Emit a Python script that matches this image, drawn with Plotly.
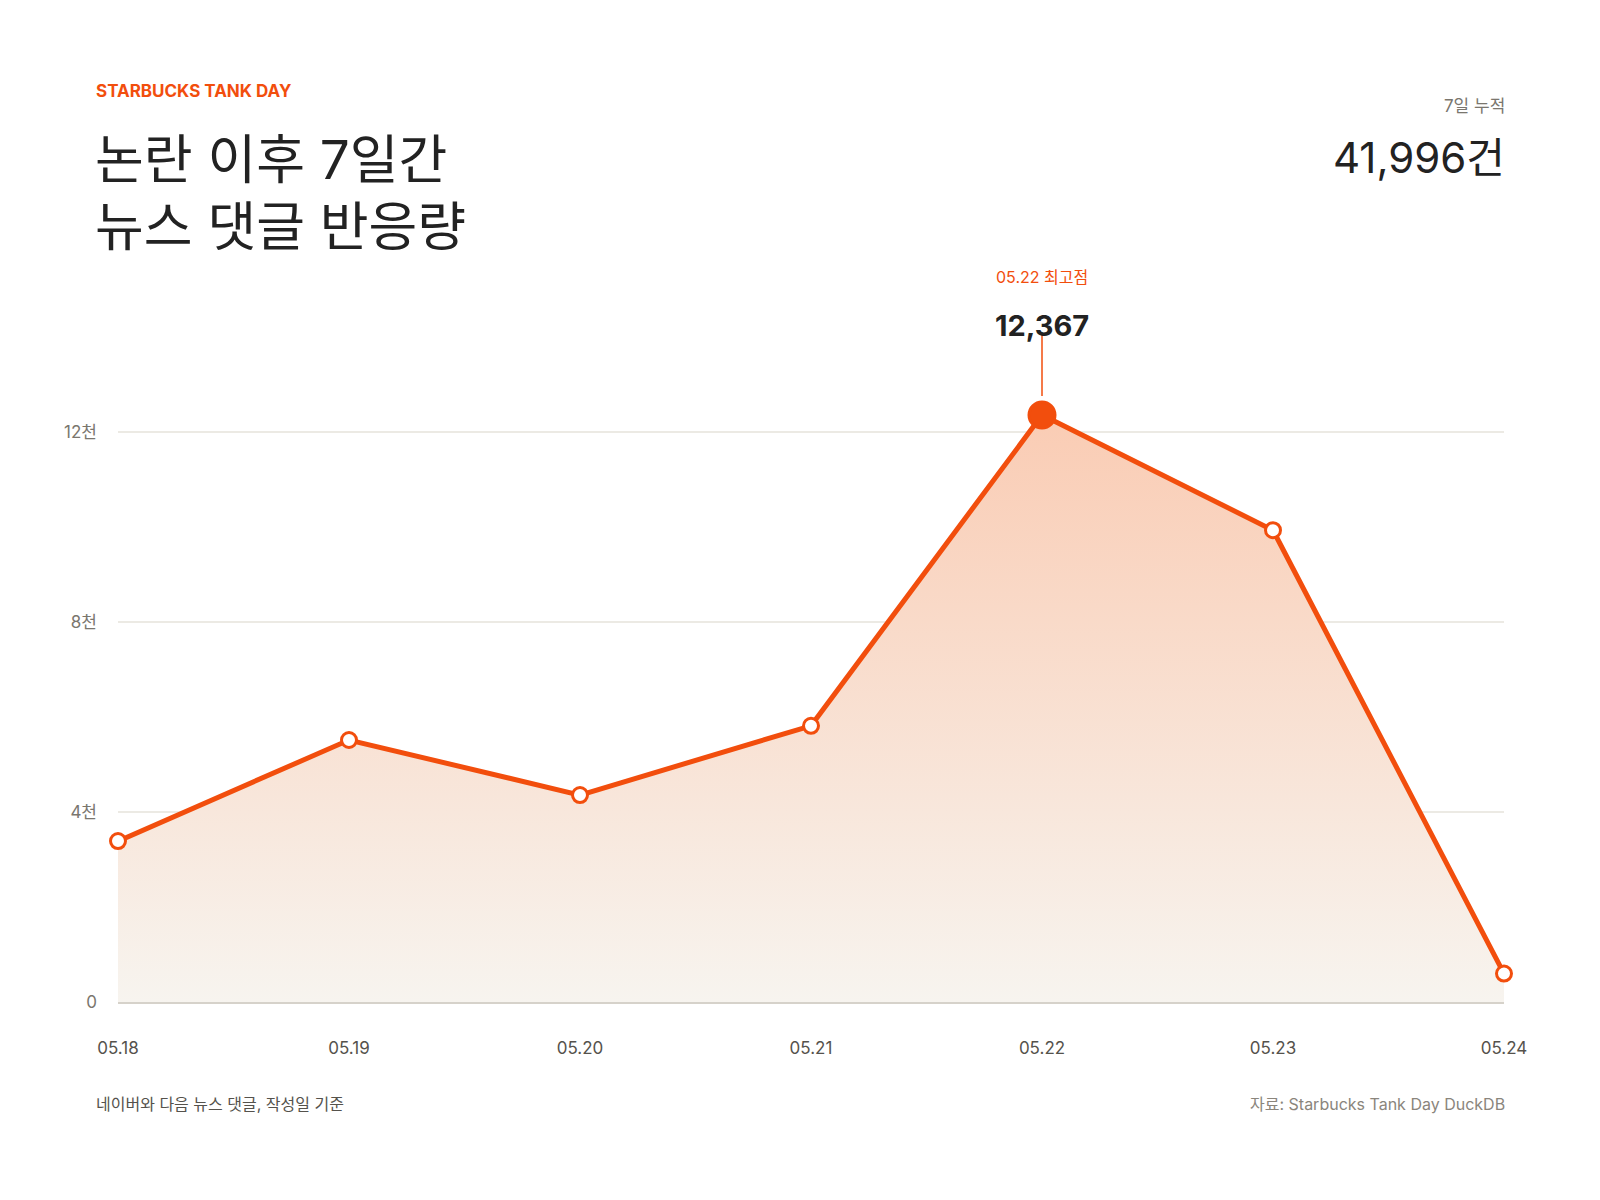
import plotly.graph_objects as go

dates = ["05.18", "05.19", "05.20", "05.21", "05.22", "05.23", "05.24"]
comments = [3390, 5520, 4360, 5820, 12367, 9940, 599]
y_ticks = [0, 4000, 8000, 12000]
y_tick_labels = ["0", "4천", "8천", "12천"]

ORANGE = "#F24E0D"
DARK = "#222222"
GREY = "#7a766e"
FONT = "Inter, 'Noto Sans CJK KR', sans-serif"

total = sum(comments)
peak_i = comments.index(max(comments))
peak_date = dates[peak_i]
peak_val = comments[peak_i]

sizes = [26 if i == peak_i else 15 for i in range(len(comments))]
fills = [ORANGE if i == peak_i else "white" for i in range(len(comments))]

fig = go.Figure()
fig.add_trace(go.Scatter(
    x=dates, y=comments, mode="lines",
    line=dict(color=ORANGE, width=5),
    fill="tozeroy",
    fillgradient=dict(type="vertical",
                      colorscale=[[0, "rgba(247,244,239,1)"], [1, "rgba(250,204,180,1)"]]),
    cliponaxis=False, hoverinfo="skip",
))
fig.add_trace(go.Scatter(
    x=dates, y=comments, mode="markers",
    marker=dict(size=sizes, color=fills, opacity=1, line=dict(color=ORANGE, width=3)),
    cliponaxis=False, hoverinfo="skip",
))

W, H = 1600, 1200
L, R, T, B = 118, 96, 385, 198
ph = H - T - B
pw = W - L - R

def py(p):
    return (H - B - p) / ph

def px(p):
    return (p - L) / pw

ann = []
ann.append(dict(text="<b>STARBUCKS TANK DAY</b>", x=px(94), y=py(91), xref="paper", yref="paper",
                xanchor="left", yanchor="middle", showarrow=False,
                font=dict(size=17, color=ORANGE, family=FONT)))
ann.append(dict(text="논란 이후 7일간", x=px(93), y=py(160), xref="paper", yref="paper",
                xanchor="left", yanchor="middle", showarrow=False,
                font=dict(size=53, color=DARK, family=FONT)))
ann.append(dict(text="뉴스 댓글 반응량", x=px(93), y=py(227), xref="paper", yref="paper",
                xanchor="left", yanchor="middle", showarrow=False,
                font=dict(size=53, color=DARK, family=FONT)))
ann.append(dict(text="7일 누적", x=px(1507), y=py(106), xref="paper", yref="paper",
                xanchor="right", yanchor="middle", showarrow=False,
                font=dict(size=17, color=GREY, family=FONT)))
ann.append(dict(text=f"{total:,}건", x=px(1507), y=py(157), xref="paper", yref="paper",
                xanchor="right", yanchor="middle", showarrow=False,
                font=dict(size=42, color=DARK, family=FONT)))
ann.append(dict(text=f"{peak_date} 최고점", x=peak_i, y=py(277), xref="x", yref="paper",
                xanchor="center", yanchor="middle", showarrow=False,
                font=dict(size=16, color=ORANGE, family=FONT)))
ann.append(dict(text=f"<b>{peak_val:,}</b>", x=peak_i, y=py(325), xref="x", yref="paper",
                xanchor="center", yanchor="middle", showarrow=False,
                font=dict(size=29, color=DARK, family=FONT)))
ann.append(dict(text="네이버와 다음 뉴스 댓글, 작성일 기준", x=px(94), y=py(1104), xref="paper", yref="paper",
                xanchor="left", yanchor="middle", showarrow=False,
                font=dict(size=16, color="#55524c", family=FONT)))
ann.append(dict(text="자료: Starbucks Tank Day DuckDB", x=px(1507), y=py(1104), xref="paper", yref="paper",
                xanchor="right", yanchor="middle", showarrow=False,
                font=dict(size=16, color="#8a857c", family=FONT)))

shapes = [dict(type="line", xref="x", yref="paper", x0=peak_i, x1=peak_i,
               y0=py(335), y1=py(396), line=dict(color=ORANGE, width=1.5))]

fig.update_layout(
    width=W, height=H,
    margin=dict(l=L, r=R, t=T, b=B, autoexpand=False),
    paper_bgcolor="white", plot_bgcolor="white",
    showlegend=False,
    annotations=ann, shapes=shapes,
    font=dict(family=FONT),
    xaxis=dict(type="category", range=[0, len(dates) - 1], showgrid=False,
               showline=True, linecolor="#D6D2CA", linewidth=2,
               ticks="outside", ticklen=0, ticklabelstandoff=30,
               tickfont=dict(size=17, color="#55524c", family=FONT), zeroline=False),
    yaxis=dict(range=[0, 13000], tickvals=y_ticks, ticktext=y_tick_labels,
               showgrid=True, gridcolor="#ECEAE4", gridwidth=2, zeroline=False,
               showline=False, ticks="", ticklabelstandoff=20,
               tickfont=dict(size=17, color=GREY, family=FONT)),
    hovermode=False,
)

fig.write_html("out.html")
